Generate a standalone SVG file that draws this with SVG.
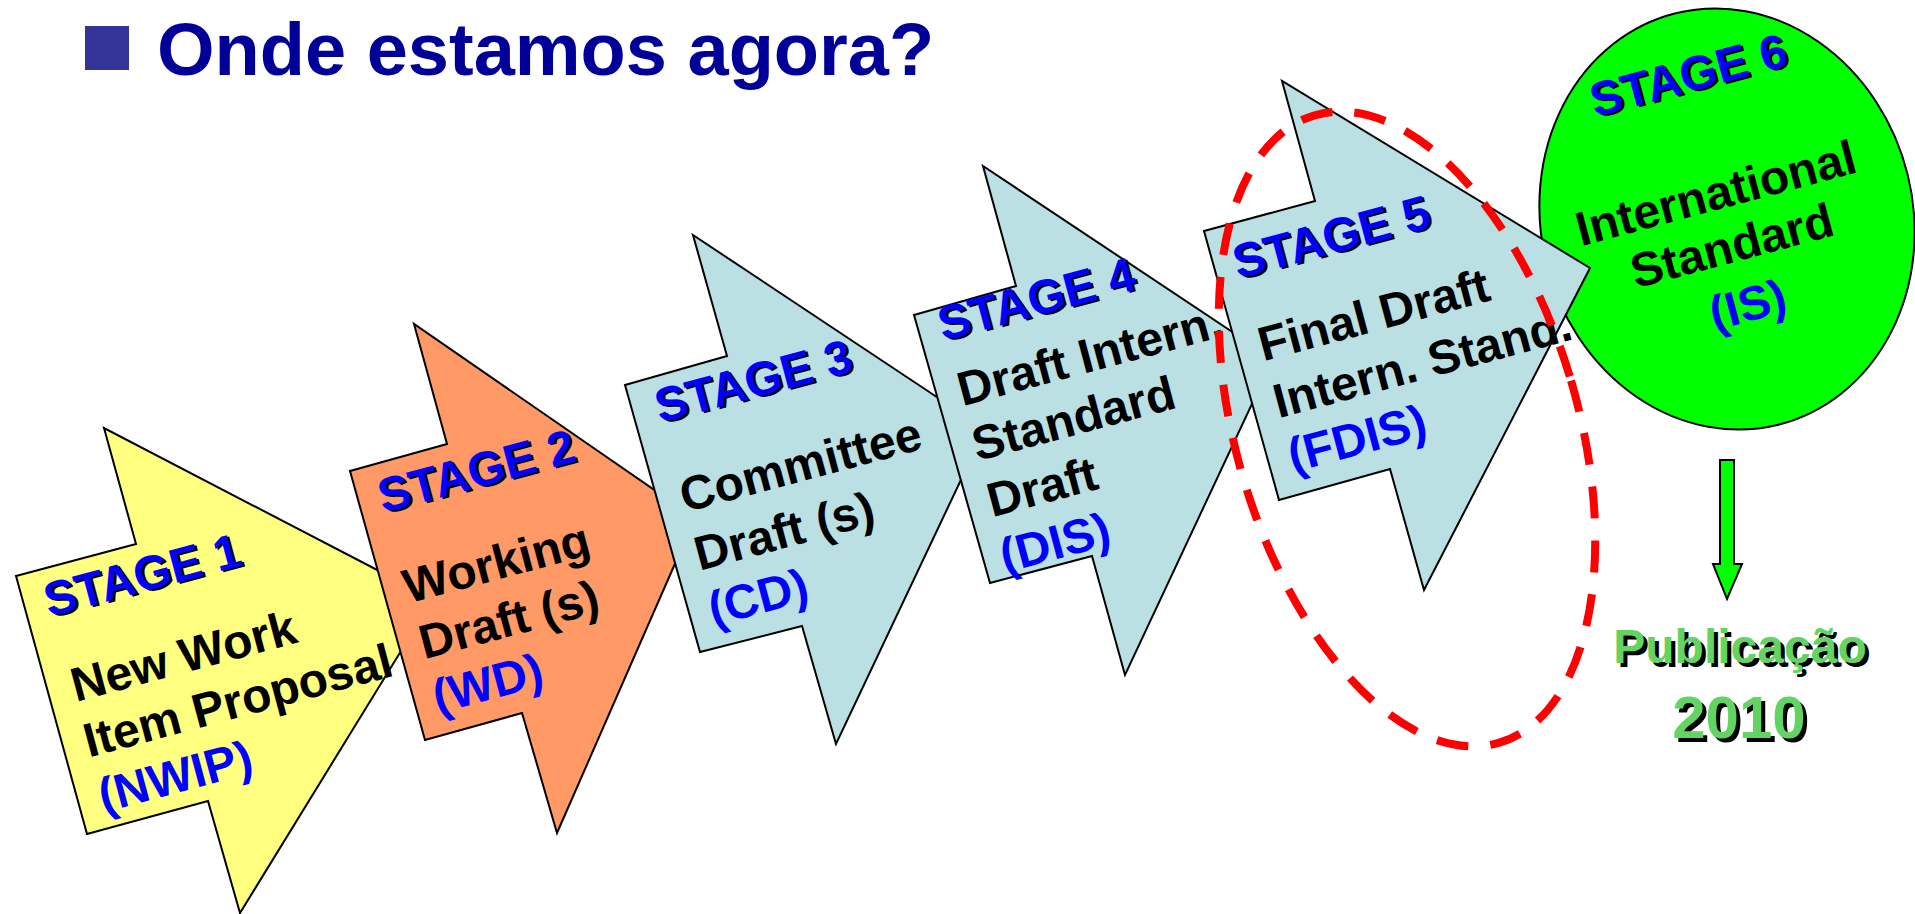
<svg xmlns="http://www.w3.org/2000/svg" width="1915" height="914" viewBox="0 0 1915 914">
<style>
  text { font-family: "Liberation Sans", Arial, sans-serif; font-weight: bold; }
  .shape { stroke: #000; stroke-width: 2; stroke-linejoin: miter; }
  .s1 { fill: #FFFF80; }
  .s2 { fill: #FF9966; }
  .s3 { fill: #BBE0E3; }
  .s6 { fill: #00FF00; }
  .lbl { font-size: 48px; fill: #000; }
  .stg { font-size: 48px; fill: #0000FF; }
  .shd { font-size: 48px; fill: #000; }
  .abbr { font-size: 48px; fill: #0000FF; }
  .pub { fill: #62D462; }
</style>

<g id="title">
  <rect x="85" y="26" width="44" height="44" fill="#333399"/>
  <text x="157" y="75" font-size="74" fill="#000099">Onde estamos agora?</text>
</g>

<g id="stage1">
  <polygon class="shape s1" points="16,576 136,544 104,428 433,599 240,913 208,801 87,834"/>
  <g transform="translate(49,617) rotate(-15)">
    <text class="shd" x="2" y="2">STAGE 1</text>
    <text class="stg" x="0" y="0">STAGE 1</text>
    <text class="lbl" x="4" y="89">New Work</text>
    <text class="lbl" x="2" y="146">Item Proposal</text>
    <text class="abbr" x="2" y="203">(NWIP)</text>
  </g>
</g>

<g id="stage2">
  <polygon class="shape s2" points="350,471 447,444 414,324 695,518 557,833 522,713 425,740"/>
  <g transform="translate(383,513) rotate(-15)">
    <text class="shd" x="2" y="2">STAGE 2</text>
    <text class="stg" x="0" y="0">STAGE 2</text>
    <text class="lbl" x="1" y="94">Working</text>
    <text class="lbl" x="2" y="152">Draft (s)</text>
    <text class="abbr" x="1" y="208">(WD)</text>
  </g>
</g>

<g id="stage3">
  <polygon class="shape s3" points="625,385 727,356 693,235 985,429 836,744 802,626 700,652"/>
  <g transform="translate(660,423) rotate(-15)">
    <text class="shd" x="2" y="2">STAGE 3</text>
    <text class="stg" x="0" y="0">STAGE 3</text>
    <text class="lbl" x="1" y="93">Committee</text>
    <text class="lbl" x="0" y="153">Draft (s)</text>
    <text class="abbr" x="-1" y="210">(CD)</text>
  </g>
</g>

<g id="stage4">
  <polygon class="shape s3" points="914,315 1016,286 983,166 1273,359 1125,675 1092,556 990,583"/>
  <g transform="translate(943,341) rotate(-15)">
    <text class="shd" x="2" y="2">STAGE 4</text>
    <text class="stg" x="0" y="0">STAGE 4</text>
    <text class="lbl" x="2" y="68">Draft Intern.</text>
    <text class="lbl" x="2" y="125">Standard</text>
    <text class="lbl" x="2" y="183">Draft</text>
    <text class="abbr" x="0" y="240">(DIS)</text>
  </g>
</g>

<g id="stage6">
  <ellipse class="shape s6" cx="1727" cy="219" rx="186" ry="212" transform="rotate(-14 1727 219)"/>
  <g transform="translate(1720,209) rotate(-15)" text-anchor="middle">
    <text class="shd" x="6" y="-119">STAGE 6</text>
    <text class="stg" x="4" y="-121">STAGE 6</text>
    <text class="lbl" x="0" y="0">International</text>
    <text class="lbl" x="2" y="55">Standard</text>
    <text class="abbr" x="2" y="116">(IS)</text>
  </g>
</g>

<g id="stage5">
  <polygon class="shape s3" points="1204,231 1315,201 1282,81 1590,268 1424,590 1390,469 1279,500"/>
  <g transform="translate(1238,279) rotate(-15)">
    <text class="shd" x="2" y="2">STAGE 5</text>
    <text class="stg" x="0" y="0">STAGE 5</text>
    <text class="lbl" x="3" y="86">Final Draft</text>
    <text class="lbl" x="3" y="145">Intern. Stand.</text>
    <text class="abbr" x="3" y="201">(FDIS)</text>
  </g>
</g>

<g id="highlight">
  <ellipse cx="1407" cy="429" rx="171" ry="327" transform="rotate(-16.4 1407 429)" fill="none" stroke="#FF0000" stroke-width="8" stroke-dasharray="32 22"/>
</g>

<g id="connectors">
  <polygon class="shape s6" stroke-width="1.5" points="1720,460 1734,460 1734,564 1742,564 1727,599 1713,564 1720,564"/>
</g>

<g id="publicacao">
  <text x="1744" y="667" font-size="48" text-anchor="middle" fill="#000">Publicação</text>
  <text class="pub" x="1740" y="663" font-size="48" text-anchor="middle">Publicação</text>
  <text x="1743" y="742" font-size="60" text-anchor="middle" fill="#000">2010</text>
  <text class="pub" x="1739" y="738" font-size="60" text-anchor="middle">2010</text>
</g>
</svg>
